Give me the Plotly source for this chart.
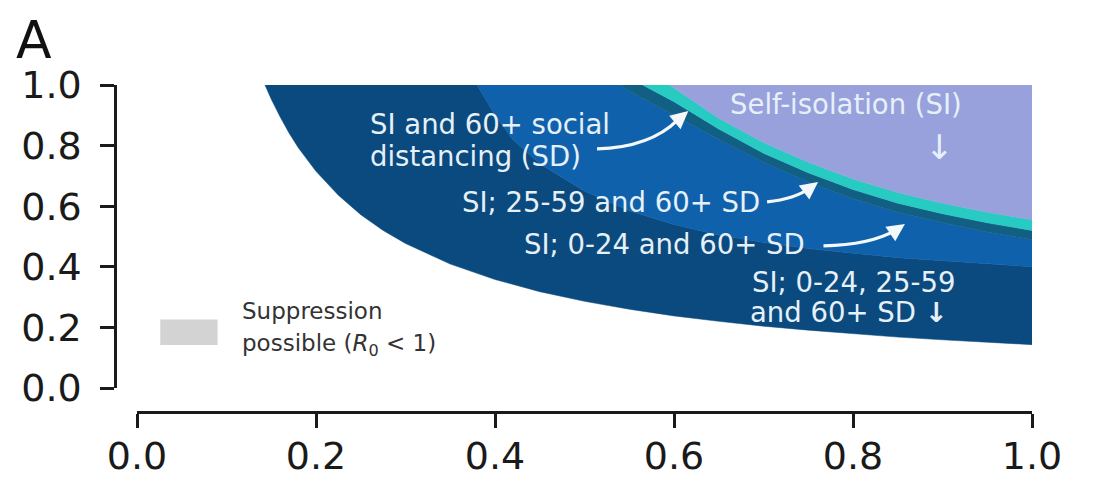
import plotly.graph_objects as go

# ---- data ----
# lower boundary of "SI; 0-24, 25-59 and 60+ SD" (navy) region
c1_x = [0.143, 0.15, 0.16, 0.17, 0.18, 0.19, 0.20, 0.225, 0.25, 0.275, 0.30, 0.35, 0.40, 0.45,
        0.50, 0.55, 0.60, 0.65, 0.70, 0.75, 0.80, 0.85, 0.90, 0.95, 1.00]
c1_y = [1.000, 0.953, 0.894, 0.841, 0.794, 0.753, 0.715, 0.636, 0.572, 0.520, 0.477, 0.409, 0.358,
        0.318, 0.286, 0.260, 0.238, 0.220, 0.204, 0.191, 0.179, 0.168, 0.159, 0.151, 0.143]
# lower boundary of "SI; 0-24 and 60+ SD" region
c2_x = [0.38, 0.40, 0.42, 0.45, 0.50, 0.55, 0.60, 0.65, 0.70, 0.75, 0.80, 0.85, 0.90, 0.95, 1.00]
c2_y = [1.00, 0.90, 0.82, 0.74, 0.65, 0.585, 0.54, 0.505, 0.48, 0.46, 0.445, 0.43, 0.42, 0.41, 0.40]
# lower boundary of "SI; 25-59 and 60+ SD" band
c3_x = [0.54, 0.55, 0.60, 0.65, 0.70, 0.75, 0.80, 0.85, 0.90, 0.95, 1.00]
c3_y = [1.00, 0.98, 0.90, 0.82, 0.745, 0.68, 0.625, 0.58, 0.545, 0.515, 0.49]
# lower boundary of "SI and 60+ SD" band
c4_x = [0.565, 0.60, 0.65, 0.70, 0.75, 0.80, 0.85, 0.90, 0.95, 1.00]
c4_y = [1.00, 0.945, 0.855, 0.775, 0.71, 0.655, 0.61, 0.575, 0.545, 0.52]
# lower boundary of "Self-isolation (SI)" region
c5_x = [0.595, 0.60, 0.65, 0.70, 0.75, 0.80, 0.85, 0.90, 0.95, 1.00]
c5_y = [1.00, 0.99, 0.89, 0.81, 0.745, 0.69, 0.645, 0.61, 0.58, 0.555]

region_names = ["SI; 0-24, 25-59 and 60+ SD", "SI; 0-24 and 60+ SD",
                "SI; 25-59 and 60+ SD", "SI and 60+ SD", "Self-isolation (SI)"]
region_colors = ["#0b4a7e", "#1061ac", "#125f84", "#27cbc1", "#98a1dc"]

x_ticks = [0.0, 0.2, 0.4, 0.6, 0.8, 1.0]
y_ticks = [0.0, 0.2, 0.4, 0.6, 0.8, 1.0]

curves = [(c1_x, c1_y), (c2_x, c2_y), (c3_x, c3_y), (c4_x, c4_y), (c5_x, c5_y)]

fig = go.Figure()
for i, name in enumerate(region_names):
    lx, ly = curves[i]
    if i + 1 < len(curves):
        ux, uy = curves[i + 1]
    else:
        ux, uy = [1.0], [1.0]
    px = list(lx) + list(reversed(ux))
    py = list(ly) + list(reversed(uy))
    fig.add_trace(go.Scatter(x=px, y=py, mode="lines", fill="toself",
                             fillcolor=region_colors[i], line=dict(width=0.5, color=region_colors[i]),
                             name=name, hoverinfo="name"))

txt_color = "#e6f0f8"
fnt = "DejaVu Sans"

def label(text, x, y, size=27.5, xanchor="left", color=txt_color):
    fig.add_annotation(x=x, y=y, xref="x", yref="y", text=text, showarrow=False,
                       xanchor=xanchor, yanchor="middle",
                       font=dict(family=fnt, size=size, color=color))

label("SI and 60+ social", 0.258, 0.871)
label("distancing (SD)", 0.258, 0.766)
label("Self-isolation (SI)", 0.792, 0.937, xanchor="center")
label("↓", 0.897, 0.795, size=34, xanchor="center")
label("SI; 25-59 and 60+ SD", 0.361, 0.614)
label("SI; 0-24 and 60+ SD", 0.430, 0.475)
label("SI; 0-24, 25-59", 0.685, 0.350)
label("and 60+ SD <b>↓</b>", 0.683, 0.251)

# curved arrows
arrows = [
    ((0.514, 0.789), (0.573, 0.794), (0.616, 0.914), (0.604, 0.884)),
    ((0.704, 0.614), (0.735, 0.624), (0.761, 0.680), (0.752, 0.660)),
    ((0.767, 0.469), (0.819, 0.472), (0.858, 0.541), (0.848, 0.521)),
]
for (s, c, e, t) in arrows:
    fig.add_shape(type="path", xref="x", yref="y",
                  path=f"M {s[0]},{s[1]} Q {c[0]},{c[1]} {t[0]},{t[1]}",
                  line=dict(color="#f4f8fb", width=3.2))
    fig.add_annotation(x=e[0], y=e[1], ax=t[0], ay=t[1], xref="x", yref="y",
                       axref="x", ayref="y", text="", showarrow=True,
                       arrowhead=2, arrowsize=1.1, arrowwidth=3.2, arrowcolor="#f4f8fb")

# legend
fig.add_shape(type="rect", xref="x", yref="y", x0=0.026, x1=0.09, y0=0.142, y1=0.226,
              fillcolor="#d3d3d3", line=dict(width=0))
label("Suppression", 0.115, 0.254, size=23, color="#333333")
label("possible (<i>R</i><sub>0</sub> &lt; 1)", 0.115, 0.142, size=23, color="#333333")

# panel letter
fig.add_annotation(x=-0.088, y=1.231, xref="paper", yref="paper", text="A", showarrow=False,
                   xanchor="center", yanchor="top", borderpad=0,
                   font=dict(family=fnt, size=52, color="#111111"))

axis_common = dict(range=[0, 1], showgrid=False, zeroline=False, showline=True, automargin=False,
                   linecolor="#1a1a1a", linewidth=2.5, ticks="outside", ticklen=14,
                   tickwidth=2.5, tickcolor="#1a1a1a", tickformat=".1f",
                   tickfont=dict(family=fnt, size=38, color="#1a1a1a"))

# the page body has an 8px margin, so the figure is drawn 8px in from the window corner
fig.update_layout(
    width=1086, height=471,
    margin=dict(l=107, r=62, t=77, b=67, autoexpand=False),
    plot_bgcolor="white", paper_bgcolor="white",
    showlegend=False,
    xaxis=dict(domain=[22 / 917, 1], anchor="free", position=0, tickvals=x_ticks,
               ticklabelstandoff=-4, **axis_common),
    yaxis=dict(domain=[24 / 327, 1], anchor="free", position=0, tickvals=y_ticks,
               ticklabelstandoff=11, **axis_common),
)

fig.write_html("out.html")
